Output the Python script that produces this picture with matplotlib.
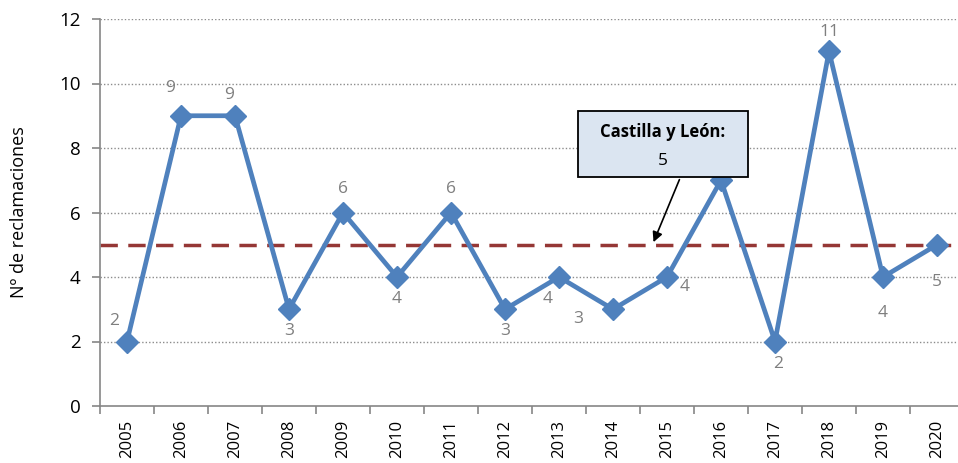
import matplotlib
matplotlib.use("Agg")
import matplotlib.pyplot as plt
from matplotlib.patches import FancyBboxPatch

years = ["2005", "2006", "2007", "2008", "2009", "2010", "2011", "2012",
         "2013", "2014", "2015", "2016", "2017", "2018", "2019", "2020"]
reclamaciones = [2, 9, 9, 3, 6, 4, 6, 3, 4, 3, 4, 7, 2, 11, 4, 5]
media_cyl = 5
callout_title = "Castilla y León:"

# label offsets in points (style only)
label_offsets = [(-9, 15), (-8, 20), (-4, 15), (0, -16), (0, 17), (0, -16), (0, 17), (0, -16),
                 (-8, -16), (-25, -7), (13, -7), None, (2, -16), (0, 14), (0, -26), (0, -27)]

plt.rcParams['font.family'] = ['Open Sans', 'DejaVu Sans']
fig = plt.figure(figsize=(9.58, 4.63), dpi=100)
ax = fig.add_axes([100/958, 1 - 406/463, 864/958, (406-19)/463])

x = list(range(len(years)))
ax.set_xlim(-0.5, len(years) - 0.5)
ax.set_ylim(0, 12)

for yv in range(2, 13, 2):
    ax.axhline(yv, color='#8c8c8c', linestyle=(0, (1, 1.5)), linewidth=1.0, zorder=1)

ax.axhline(media_cyl, color='#953735', linestyle=(0, (5, 3)), linewidth=2.5, zorder=2)

ax.plot(x, reclamaciones, color='#4f81bd', linewidth=3.4, marker='D', markersize=11,
        markerfacecolor='#4f81bd', markeredgecolor='#4f81bd', zorder=3)

for xi, v, off in zip(x, reclamaciones, label_offsets):
    if off is None:
        continue
    ax.annotate(str(v), (xi, v), xytext=off, textcoords='offset points',
                ha='center', va='center', color='#7f7f7f', fontsize=12.5, zorder=4)

ax.set_yticks(range(0, 13, 2))
ax.set_xticks(x)
ax.set_xticklabels(years, rotation=90, fontsize=12)
ax.set_xticks([i - 0.5 for i in range(len(years) + 1)], minor=True)
ax.tick_params(axis='x', which='major', length=0, pad=10)
ax.tick_params(axis='x', which='minor', length=6, color='#868686', width=1.2)
ax.tick_params(axis='y', labelsize=13.5, length=6, color='#868686', width=1.2, pad=8)
ax.set_ylabel("Nº de reclamaciones", fontsize=13, labelpad=22)

for s in ['top', 'right']:
    ax.spines[s].set_visible(False)
for s in ['left', 'bottom']:
    ax.spines[s].set_color('#868686')
    ax.spines[s].set_linewidth(1.2)

# callout box
box_x0, box_x1 = 8.35, 11.5
box_y0, box_y1 = 7.1, 9.15
box = FancyBboxPatch((box_x0, box_y0), box_x1 - box_x0, box_y1 - box_y0,
                     boxstyle='square,pad=0', facecolor='#dbe5f1', edgecolor='black',
                     linewidth=1.3, zorder=5)
ax.add_patch(box)
ax.text((box_x0 + box_x1) / 2, 8.5, callout_title, ha='center', va='center',
        fontsize=12, fontweight='bold', zorder=6)
ax.text((box_x0 + box_x1) / 2, 7.6, str(media_cyl), ha='center', va='center',
        fontsize=12.5, zorder=6)
ax.annotate('', xy=(9.73, media_cyl), xytext=(10.25, box_y0),
            arrowprops=dict(arrowstyle='-|>', color='black', lw=1.2, mutation_scale=15), zorder=6)

fig.savefig("out.png", dpi=100)
